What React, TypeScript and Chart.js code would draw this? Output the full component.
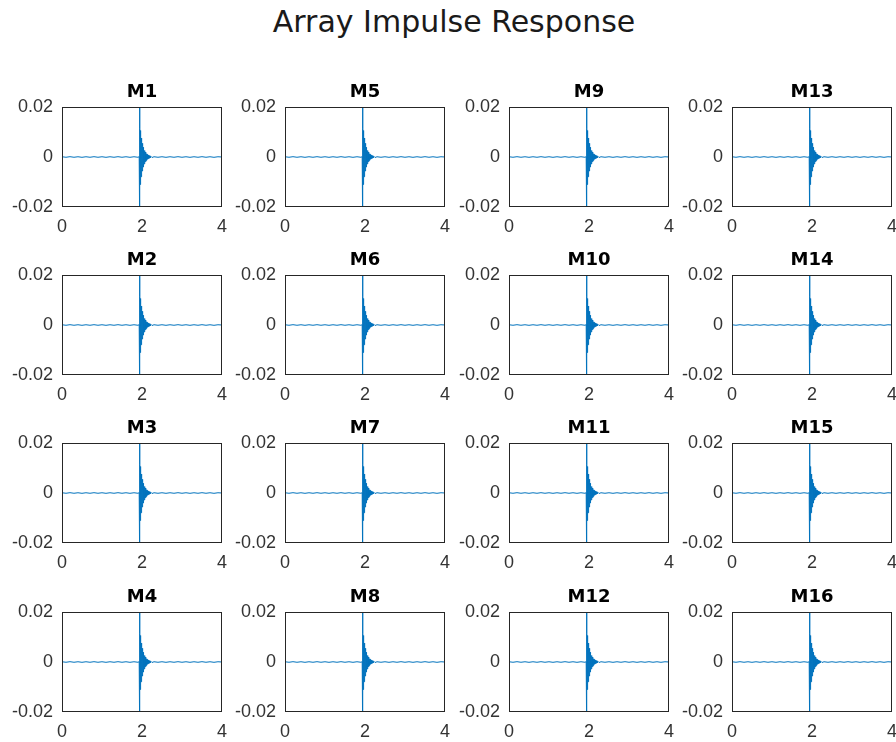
import React, { useEffect, useRef } from 'react';
import { Chart, registerables } from 'chart.js';

Chart.register(...registerables);

// ---------- data ----------
const figureTitle = 'Array Impulse Response';
const micLabels = [
  'M1', 'M2', 'M3', 'M4',
  'M5', 'M6', 'M7', 'M8',
  'M9', 'M10', 'M11', 'M12',
  'M13', 'M14', 'M15', 'M16',
];
const xTickValues = [0, 2, 4];
const yTickValues = [-0.02, 0, 0.02];
const xRange = [0, 4];
const yRange = [-0.02, 0.02];

const timeSec = [
  // before arrival
  0, 0.1, 0.2, 0.3, 0.4, 0.5, 0.6, 0.7, 0.8, 0.9,
  1.0, 1.1, 1.2, 1.3, 1.4, 1.5, 1.6, 1.7, 1.8, 1.9, 1.93, 1.935,
  // direct arrival and dense reverberant decay
  1.94, 1.9425, 1.945, 1.9475, 1.95, 1.9525, 1.955, 1.9575, 1.96, 1.9625,
  1.965, 1.9675, 1.97, 1.9725, 1.975, 1.9775, 1.98, 1.9825, 1.985, 1.9875,
  1.99, 1.9925, 1.995, 1.9975, 2.0, 2.0025, 2.005, 2.0075, 2.01, 2.0125,
  2.015, 2.0175, 2.02, 2.0225, 2.025, 2.0275, 2.03, 2.0325, 2.035, 2.0375, 2.04,
  2.045, 2.05, 2.055, 2.06, 2.065, 2.07, 2.075, 2.08, 2.085, 2.09,
  2.095, 2.1, 2.105, 2.11, 2.115, 2.12, 2.125, 2.13, 2.135, 2.14,
  2.15, 2.16, 2.17, 2.18, 2.2, 2.22, 2.25, 2.3,
  // after decay
  2.4, 2.5, 2.6, 2.7, 2.8, 2.9, 3.0, 3.1, 3.2, 3.3, 3.4, 3.5, 3.6, 3.7, 3.8, 3.9, 4.0,
];
const amplitude = [
  0.0001, -0.0001, 0.00012, -0.0001, 0.0001, -0.00012, 0.0001, -0.0001, 0.00012, -0.0001,
  0.0001, -0.00012, 0.0001, -0.0001, 0.00012, -0.0001, 0.0001, -0.00012, 0.0001, -0.0001, 0.00012, -0.0002,
  0.034, -0.032, 0.0124, -0.0118, 0.0114, -0.011, 0.0106, -0.0103, 0.01, -0.0096,
  0.0093, -0.009, 0.0087, -0.0084, 0.0082, -0.0079, 0.0076, -0.0074, 0.0071, -0.0069,
  0.0067, -0.0065, 0.0062, -0.006, 0.0058, -0.0056, 0.0055, -0.0053, 0.0051, -0.0049,
  0.0048, -0.0046, 0.0045, -0.0043, 0.0042, -0.004, 0.0039, -0.0038, 0.0037, -0.0035, 0.0034,
  -0.0032, 0.003, -0.0028, 0.0026, -0.0024, 0.0023, -0.0021, 0.002, -0.0019, 0.0017,
  -0.0016, 0.0015, -0.0014, 0.0013, -0.0012, 0.0012, -0.0011, 0.001, -0.0009, 0.0009,
  -0.0008, 0.0007, -0.0006, 0.0005, -0.0004, 0.0003, -0.0002, 0.0001,
  -0.0001, 0.0001, -0.00012, 0.0001, -0.0001, 0.00012, -0.0001, 0.0001, -0.00012, 0.0001,
  -0.0001, 0.00012, -0.0001, 0.0001, -0.00012, 0.0001, 0,
];

// ---------- layout ----------
const PLOT_LEFTS = [62, 285, 509, 732];
const PLOT_TOPS = [107, 275, 443, 612];
const PLOT_W = 160;
const PLOT_H = 100;
const Y_AXIS_W = 62;
const X_AXIS_H = 32;
const PAD_TOP = 34;
const PAD_RIGHT = 14;
const TICK_COLOR = '#333333';
const BOX_COLOR = '#262626';
const LINE_COLOR = '#0072BD';
const TICK_FONT = { family: '"Liberation Sans", Arial, sans-serif', size: 18 };

const boxPlugin = {
  id: 'boxAndTitle',
  afterDraw(chart: any, _args: any, opts: any) {
    const { ctx, chartArea } = chart;
    const { left, top, right, bottom } = chartArea;
    ctx.save();
    ctx.strokeStyle = BOX_COLOR;
    ctx.lineWidth = 1;
    ctx.strokeRect(left + 0.5, top + 0.5, right - left - 1, bottom - top - 1);
    ctx.fillStyle = '#000';
    ctx.font = 'bold 18px "DejaVu Sans", sans-serif';
    ctx.textAlign = 'center';
    ctx.textBaseline = 'alphabetic';
    ctx.fillText(opts.text, (left + right) / 2, top - 10);
    ctx.restore();
  },
};

function Panel({ label, left, top }: { label: string; left: number; top: number }) {
  const ref = useRef<HTMLCanvasElement | null>(null);
  useEffect(() => {
    if (!ref.current) return;
    const points = timeSec.map((t, i) => ({ x: t, y: amplitude[i] }));
    const chart = new Chart(ref.current, {
      type: 'line',
      data: {
        datasets: [
          {
            data: points,
            borderColor: LINE_COLOR,
            borderWidth: 1,
            pointRadius: 0,
            tension: 0,
            fill: false,
          },
        ],
      },
      options: {
        animation: false,
        responsive: false,
        maintainAspectRatio: false,
        events: [],
        layout: { padding: { top: PAD_TOP, right: PAD_RIGHT, left: 0, bottom: 0 } },
        plugins: {
          legend: { display: false },
          tooltip: { enabled: false },
          boxAndTitle: { text: label },
        } as any,
        scales: {
          x: {
            type: 'linear',
            min: xRange[0],
            max: xRange[1],
            afterFit: (s: any) => { s.height = X_AXIS_H; },
            afterBuildTicks: (s: any) => { s.ticks = xTickValues.map((v) => ({ value: v })); },
            grid: { display: false, drawTicks: false },
            border: { display: false },
            ticks: { color: TICK_COLOR, font: TICK_FONT, padding: 9, maxRotation: 0, autoSkip: false, callback: (v: any) => String(v) },
          },
          y: {
            type: 'linear',
            min: yRange[0],
            max: yRange[1],
            afterFit: (s: any) => { s.width = Y_AXIS_W; },
            afterBuildTicks: (s: any) => { s.ticks = yTickValues.map((v) => ({ value: v })); },
            grid: { display: false, drawTicks: false },
            border: { display: false },
            ticks: { color: TICK_COLOR, font: TICK_FONT, padding: 9, autoSkip: false, callback: (v: any) => String(v) },
          },
        },
      },
      plugins: [boxPlugin],
    } as any);
    return () => chart.destroy();
  }, [label]);
  const w = Y_AXIS_W + PLOT_W + PAD_RIGHT;
  const h = PAD_TOP + PLOT_H + X_AXIS_H;
  return (
    <canvas
      ref={ref}
      width={w}
      height={h}
      style={{ position: 'absolute', left: left - Y_AXIS_W, top: top - PAD_TOP, width: w, height: h }}
    />
  );
}

export default function App() {
  return (
    <div style={{ position: 'absolute', left: 0, top: 0, width: 896, height: 742, background: '#fff', overflow: 'hidden' }}>
      <div
        style={{
          position: 'absolute',
          left: 6,
          top: 5,
          width: 896,
          textAlign: 'center',
          fontFamily: '"DejaVu Sans", sans-serif',
          fontSize: 30,
          lineHeight: '34px',
          color: '#1a1a1a',
          whiteSpace: 'nowrap',
        }}
      >
        {figureTitle}
      </div>
      {micLabels.map((label, i) => {
        const col = Math.floor(i / 4);
        const row = i % 4;
        return <Panel key={label} label={label} left={PLOT_LEFTS[col]} top={PLOT_TOPS[row]} />;
      })}
    </div>
  );
}
